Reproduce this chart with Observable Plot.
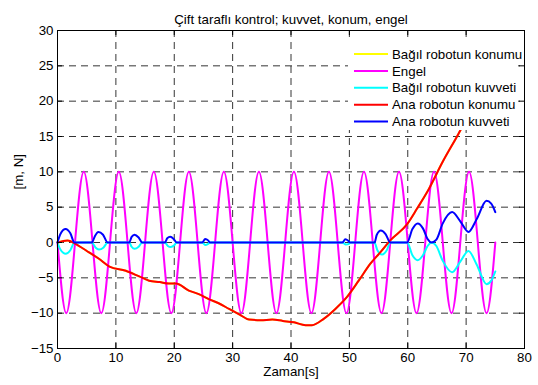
<!DOCTYPE html>
<html><head><meta charset="utf-8">
<script src="https://cdn.jsdelivr.net/npm/d3@7"></script>
<script src="https://cdn.jsdelivr.net/npm/@observablehq/plot@0.6"></script>
<style>body{margin:0;background:#fff}</style>
</head><body><div id="chart"></div><script>
const titleText = "Çift taraflı kontrol; kuvvet, konum, engel";
const xLabel = "Zaman[s]";
const yLabel = "[m, N]";
const xTicks = [0,10,20,30,40,50,60,70,80];
const yTicks = [-15,-10,-5,0,5,10,15,20,25,30];

const seriesNames = ["Bağıl robotun konumu","Engel","Bağıl robotun kuvveti","Ana robotun konumu","Ana robotun kuvveti"];
const seriesColors = ["#ffff00","#ff00ff","#00ffff","#ff0000","#0000ff"];

// Engel (obstacle) – key points (zero crossings, peaks, troughs)
const engelT = [0,1.5,3,4.5,6,7.5,9,10.5,12,13.5,15,16.5,18,19.5,21,22.5,24,25.5,27,28.5,30,31.5,33,34.5,36,37.5,39,40.5,42,43.5,45,46.5,48,49.5,51,52.5,54,55.5,57,58.5,60,61.5,63,64.5,66,67.5,69,70.5,72,73.5,75];
const engelV = [0,-10,0,10,0,-10,0,10,0,-10,0,10,0,-10,0,10,0,-10,0,10,0,-10,0,10,0,-10,0,10,0,-10,0,10,0,-10,0,10,0,-10,0,10,0,-10,0,10,0,-10,0,10,0,-10,0];

// Ana robotun konumu (and Bağıl robotun konumu, hidden beneath it)
const konumT = [0,1.7,3.5,5.4,7.1,8.9,11.7,14,15.7,17.5,19.1,20.3,22.5,24.2,25.9,27.6,29.4,31.2,32.8,34.8,36.8,38.6,40.5,42.5,43.6,45.6,47.6,49.6,51.6,53.6,55.4,57.0,59.9,61.6,63.3,66.1,68.7,71,73,75];
const konumV = [0,0.3,-0.4,-1.4,-2.3,-3.4,-4.0,-4.8,-5.4,-5.6,-5.8,-5.8,-6.8,-7.3,-8.0,-8.6,-9.4,-10.2,-10.9,-11.0,-10.9,-11.1,-11.3,-11.7,-11.7,-10.8,-9.4,-7.7,-5.4,-3.0,-1.3,0.3,2.6,4.8,7.1,11.6,15.4,19,22.5,26];

// Ana robotun kuvveti
const anaKuvT = [0,0.5,1.4,2.2,2.9,5.9,6.4,7.0,7.8,8.6,12.3,12.7,13.2,13.9,14.5,18.4,18.8,19.3,19.9,20.4,24.8,25.3,25.8,26.1,48.8,49.3,49.8,50.1,54.3,54.7,55.4,56.2,57.0,59.9,60.8,61.7,62.6,63.4,64.1,64.9,66.0,67.6,69.0,70.4,71.8,73.5,74.3,75];
const anaKuvV = [0,1.2,1.9,1.3,0,0,0.9,1.5,1.1,0,0,0.8,1.1,0.7,0,0,0.6,0.8,0.5,0,0,0.5,0.3,0,0,0.45,0.25,0,0,1.1,1.7,1.2,0,0,1.9,2.7,2.0,0.5,0,0.4,2.7,4.3,3.0,1.5,3.3,5.9,5.5,4.3];

// Bağıl robotun kuvveti
const bagKuvT = [0,0.5,1.4,2.2,2.9,5.9,6.5,7.1,7.9,8.6,12.3,12.7,13.2,13.9,14.5,18.4,18.9,19.4,20.0,20.4,24.8,25.3,25.8,26.1,48.8,49.4,49.9,50.1,54.3,54.8,55.6,56.4,57.0,59.9,60.8,61.7,62.6,63.4,64.1,64.9,66.0,67.6,69.0,70.4,71.8,73.5,74.3,75];
const bagKuvV = [0,-1.0,-1.6,-1.1,0,0,-0.7,-1.0,-0.7,0,0,-0.6,-0.9,-0.6,0,0,-0.5,-0.65,-0.4,0,0,-0.35,-0.2,0,0,-0.3,-0.2,0,0,-1.1,-1.7,-1.1,0,0,-1.8,-2.5,-1.8,-0.5,0,-0.5,-2.6,-4.2,-2.7,-1.2,-3.1,-5.9,-5.4,-4.1];

const rows = (T, V) => T.map((t, i) => ({t, v: V[i]}));

const W = 538, H = 385, mt = 30, mb = 37, ml = 57, mr = 14;
const fw = W - ml - mr, fh = H - mt - mb;
const font = "'Liberation Sans', Arial, Helvetica, sans-serif";
const fs = 13.3;

const lineOpts = (color, curve) => ({x: "t", y: "v", stroke: color, strokeWidth: 2, curve});

const plot = Plot.plot({
  width: W, height: H,
  marginTop: mt, marginBottom: mb, marginLeft: ml, marginRight: mr,
  style: {fontFamily: font, fontSize: fs + "px", background: "#fff", color: "#000"},
  x: {domain: [0, 80]},
  y: {domain: [-15, 30]},
  marks: [
    Plot.ruleX(xTicks, {stroke: "#000", strokeWidth: 0.8, strokeDasharray: "7,5"}),
    Plot.ruleY(yTicks, {stroke: "#000", strokeWidth: 0.8, strokeDasharray: "7,5"}),
    Plot.line(rows(konumT, konumV), lineOpts(seriesColors[0], "monotone-x")),
    Plot.line(rows(engelT, engelV), lineOpts(seriesColors[1], "natural")),
    Plot.line(rows(bagKuvT, bagKuvV), lineOpts(seriesColors[2], "monotone-x")),
    Plot.line(rows(konumT, konumV), lineOpts(seriesColors[3], "monotone-x")),
    Plot.line(rows(anaKuvT, anaKuvV), lineOpts(seriesColors[4], "monotone-x")),
    Plot.ruleX(xTicks, {stroke: "#000", insetTop: fh - 5}),
    Plot.ruleX(xTicks, {stroke: "#000", insetBottom: fh - 5}),
    Plot.ruleY(yTicks, {stroke: "#000", insetRight: fw - 5}),
    Plot.ruleY(yTicks, {stroke: "#000", insetLeft: fw - 5}),
    Plot.frame({stroke: "#000", strokeWidth: 1}),
    Plot.axisX(xTicks, {tickSize: 0, tickPadding: 4, label: null, fontSize: fs, fill: "#000"}),
    Plot.axisY(yTicks, {tickSize: 0, tickPadding: 4, label: null, fontSize: fs, fill: "#000"}),
    Plot.text([titleText], {frameAnchor: "top", dy: -16, fontSize: fs, fill: "#000"}),
    Plot.text([xLabel], {frameAnchor: "bottom", dy: 27, fontSize: fs, fill: "#000"}),
    Plot.text([yLabel], {frameAnchor: "left", dx: -39, rotate: -90, fontSize: fs, fill: "#000"})
  ]
});

// Legend box (drawn on top, as in the original)
const svg = d3.select(plot);
const lg = svg.append("g").attr("font-family", font).attr("font-size", fs).attr("text-anchor", "start");
lg.append("rect").attr("x", 348).attr("y", 42).attr("width", 170).attr("height", 88).attr("fill", "#fff");
seriesNames.forEach((name, i) => {
  const y = 54 + i * 16.9;
  lg.append("line").attr("x1", 354).attr("x2", 388).attr("y1", y).attr("y2", y)
    .attr("stroke", seriesColors[i]).attr("stroke-width", 2);
  lg.append("text").attr("x", 392).attr("y", y).attr("dy", "0.35em")
    .attr("text-anchor", "start").attr("fill", "#000").text(name);
});

document.getElementById("chart").appendChild(plot);
</script></body></html>
